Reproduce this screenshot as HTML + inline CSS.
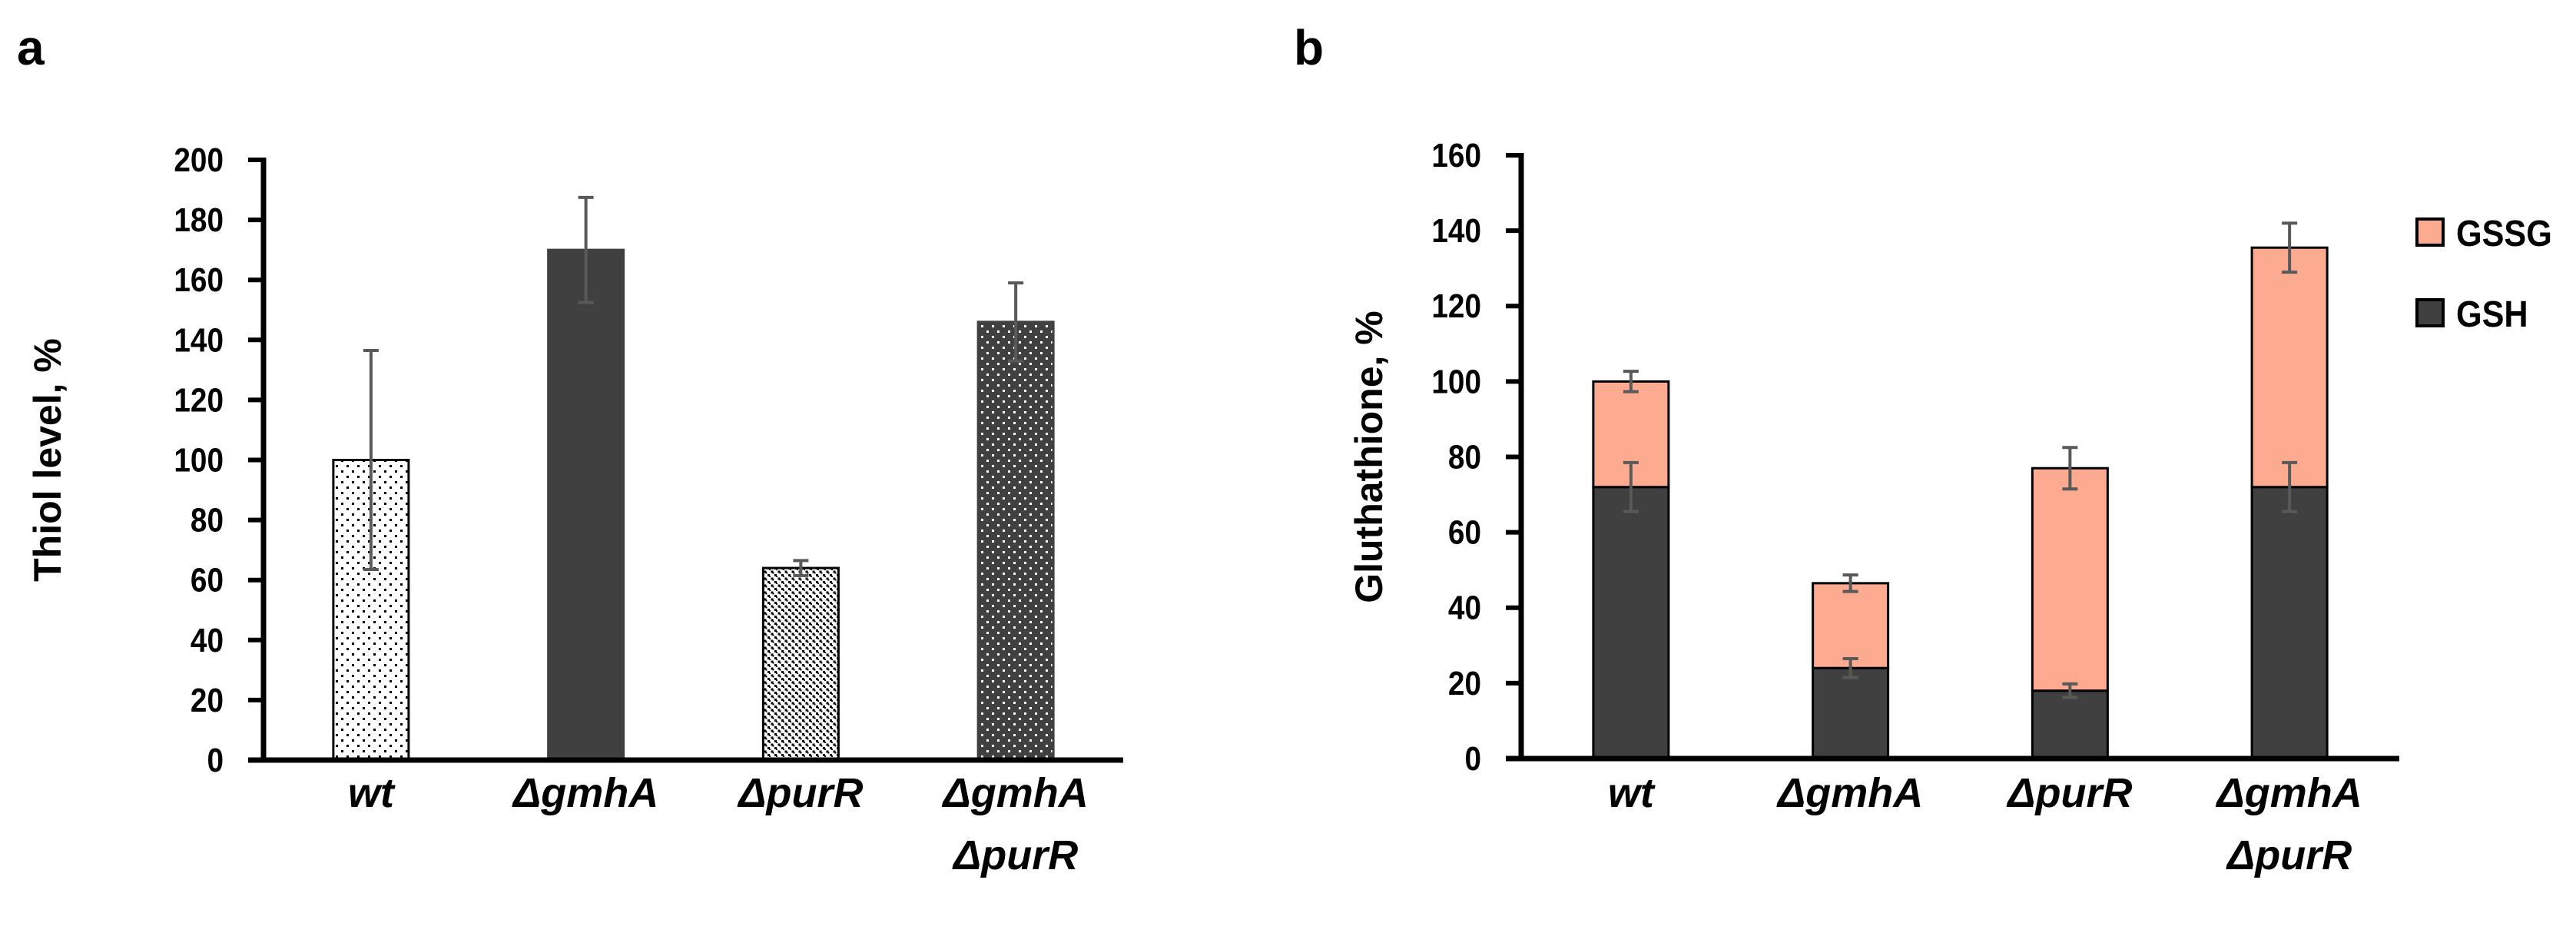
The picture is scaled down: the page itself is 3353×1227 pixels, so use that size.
<!DOCTYPE html>
<html><head><meta charset="utf-8"><style>
html,body{margin:0;padding:0;background:#fff;}
svg{display:block;font-family:"Liberation Sans",sans-serif;}
</style></head><body>
<svg id="fig" width="3353" height="1227" viewBox="0 0 3353 1227" xmlns="http://www.w3.org/2000/svg">
<defs>
<pattern id="pDots" width="14" height="14" patternUnits="userSpaceOnUse"><rect width="14" height="14" fill="#fff"/><rect x="3" y="3" width="3" height="3" fill="#000"/><rect x="10" y="10" width="3" height="3" fill="#000"/></pattern>
<pattern id="pCheck" width="9" height="9" patternUnits="userSpaceOnUse"><rect width="9" height="9" fill="#fff"/><rect x="0" y="0" width="3" height="3" fill="#000"/><rect x="4.5" y="4.5" width="3" height="3" fill="#000"/><rect x="2" y="2" width="2" height="2" fill="#000"/><rect x="6.5" y="6.5" width="2" height="2" fill="#000"/></pattern>
<pattern id="pDark" width="14" height="14" patternUnits="userSpaceOnUse"><rect width="14" height="14" fill="#404040"/><rect x="3" y="3" width="3" height="3" fill="#fff"/><rect x="10" y="10" width="3" height="3" fill="#fff"/></pattern>
</defs>
<g id="pa"></g>
<g id="pb"></g>
</svg>
<script>
// Panel a data
const catsA = [["wt"],["ΔgmhA"],["ΔpurR"],["ΔgmhA","ΔpurR"]];
const thiolValues = [100, 170, 64, 146];
const thiolErrors = [36.5, 17.5, 2.5, 13];
const ticksA = [0,20,40,60,80,100,120,140,160,180,200];
// Panel b data
const catsB = [["wt"],["ΔgmhA"],["ΔpurR"],["ΔgmhA","ΔpurR"]];
const gshValues = [72, 24, 18, 72];
const gssgValues = [28, 22.5, 59, 63.5];
const gshErrors = [6.5, 2.5, 1.8, 6.5];
const totalErrors = [2.7, 2.2, 5.5, 6.5];
const ticksB = [0,20,40,60,80,100,120,140,160];

const NS = "http://www.w3.org/2000/svg";
function mk(parent, tag, attrs, text){
  const e = document.createElementNS(NS, tag);
  for (const k in attrs) e.setAttribute(k, attrs[k]);
  if (text !== undefined) e.textContent = text;
  parent.appendChild(e);
  return e;
}
function errBar(g, x, yTop, yBot, name){
  const e = mk(g,'path',{d:`M${x-10} ${yTop}H${x+10}M${x} ${yTop}V${yBot}M${x-10} ${yBot}H${x+10}`,stroke:'#595959','stroke-width':4,fill:'none'});
  
  
}
function axes(g, x0, x1, yTop, y0, ticks, maxV, yScale, titleX, title){
  ticks.forEach(t=>{
    const y = yScale(t);
    const tk = mk(g,'line',{x1:x0-20,x2:x0,y1:y,y2:y,stroke:'#000','stroke-width':6});
    
    
    const lb = mk(g,'text',{x:x0-52,y:y+15,'text-anchor':'end','font-size':44,'font-weight':'bold',transform:`translate(${x0-52} 0) scale(0.88 1) translate(${-(x0-52)} 0)`},t);
    
    
  });
  const ya = mk(g,'line',{x1:x0,x2:x0,y1:yTop-3,y2:y0+3,stroke:'#000','stroke-width':7});
  
  
  const xa = mk(g,'line',{x1:x0-20,x2:x1,y1:y0,y2:y0,stroke:'#000','stroke-width':7});
  
  
  const ty = (yTop+y0)/2;
  const tt = mk(g,'text',{x:titleX,y:ty,'text-anchor':'middle','font-size':50,'font-weight':'bold',transform:`rotate(-90 ${titleX} ${ty})`,dy:17},title);
  
  
}
function xLabels(g, cats, xc){
  cats.forEach((lines,i)=>{
    lines.forEach((s,j)=>{
      const t = mk(g,'text',{x:xc(i),y:1050+j*81,'text-anchor':'middle','font-size':54,'font-weight':'bold','font-style':'italic'},s);
      
      
    });
  });
}

// ---- Panel a ----
(function(){
  const g = document.getElementById('pa');
  const x0=343, x1=1462, yTop=208, y0=989, maxV=200;
  const y = v => y0 - v/maxV*(y0-yTop);
  const slot = (x1-x0)/4;
  const xc = i => x0 + slot*(i+0.5);
  const bw = 98;
  const fills = ['url(#pDots)','#404040','url(#pCheck)','url(#pDark)'];
  const strokes = ['#000','#404040','#000','#404040'];
  const la = mk(g,'text',{x:22,y:84,'font-size':64,'font-weight':'bold'},'a');
  
  
  thiolValues.forEach((v,i)=>{
    const r = mk(g,'rect',{x:xc(i)-bw/2,y:y(v),width:bw,height:y0-y(v),fill:fills[i],stroke:strokes[i],'stroke-width':3});
    
    
  });
  thiolValues.forEach((v,i)=>errBar(g, xc(i), y(v+thiolErrors[i]), y(v-thiolErrors[i]), 'error-bar-thiol-'+i));
  axes(g, x0, x1, yTop, y0, ticksA, maxV, y, 62, 'Thiol level, %');
  xLabels(g, catsA, xc);
})();

// ---- Panel b ----
(function(){
  const g = document.getElementById('pb');
  const x0=1980, x1=3123, yTop=202, y0=987, maxV=160;
  const y = v => y0 - v/maxV*(y0-yTop);
  const slot = (x1-x0)/4;
  const xc = i => x0 + slot*(i+0.5);
  const bw = 98;
  const lb = mk(g,'text',{x:1684,y:84,'font-size':64,'font-weight':'bold'},'b');
  
  
  gshValues.forEach((v,i)=>{
    const r = mk(g,'rect',{x:xc(i)-bw/2,y:y(v),width:bw,height:y0-y(v),fill:'#404040',stroke:'#000','stroke-width':3});
    
    
    const tot = v + gssgValues[i];
    const r2 = mk(g,'rect',{x:xc(i)-bw/2,y:y(tot),width:bw,height:y(v)-y(tot),fill:'#fcaa90',stroke:'#000','stroke-width':3});
    
    
  });
  gshValues.forEach((v,i)=>{
    errBar(g, xc(i), y(v+gshErrors[i]), y(v-gshErrors[i]), 'error-bar-gsh-'+i);
    const tot = v + gssgValues[i];
    errBar(g, xc(i), y(tot+totalErrors[i]), y(tot-totalErrors[i]), 'error-bar-total-'+i);
  });
  axes(g, x0, x1, yTop, y0, ticksB, maxV, y, 1782, 'Gluthathione, %');
  xLabels(g, catsB, xc);
  // legend
  const items = [['GSSG','#fcaa90',283],['GSH','#404040',388]];
  items.forEach(([name,col,yy])=>{
    const lg = mk(g,'g',{});
    
    
    mk(lg,'rect',{x:3146,y:yy+2,width:34,height:34,fill:col,stroke:'#000','stroke-width':4});
    mk(lg,'text',{x:3197,y:yy+37,'font-size':48,'font-weight':'bold',transform:`translate(3197 0) scale(0.9 1) translate(-3197 0)`},name);
  });
})();
</script>
</body></html>
